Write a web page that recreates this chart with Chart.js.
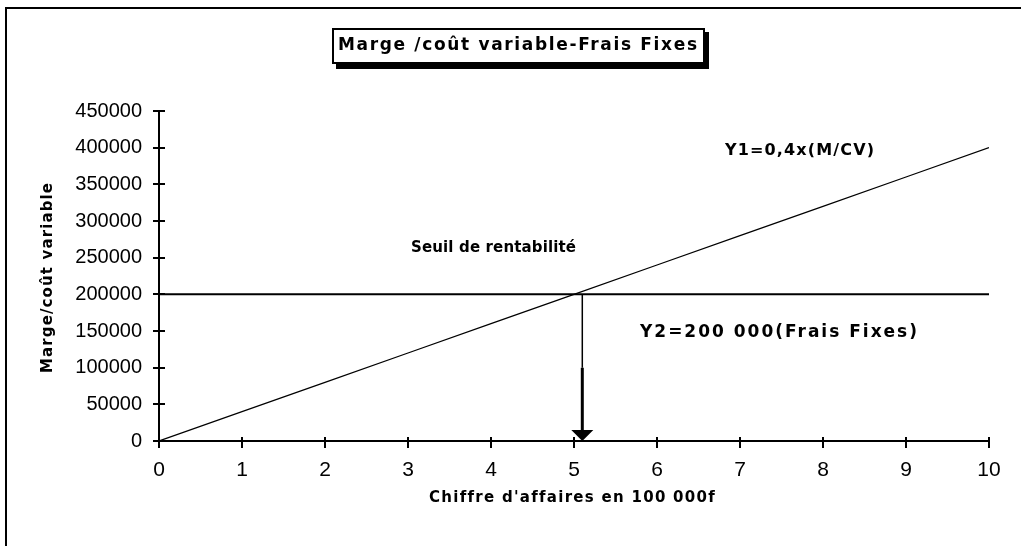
<!DOCTYPE html>
<html>
<head>
<meta charset="utf-8">
<script src="https://cdn.jsdelivr.net/npm/chart.js@4.4.0/dist/chart.umd.min.js"></script>
<style>
body{margin:0;background:#fff}
#wrap{width:1021px;height:546px;position:relative}
</style>
</head>
<body>
<div id="wrap"><canvas id="mycanvas"></canvas></div>
<script>
// chiffre d'affaires (en 100 000f)
var ca = [0, 1, 2, 3, 4, 5, 6, 7, 8, 9, 10];
// Y1 = 0,4x  (marge / coût variable)
var margeCV = [0, 40000, 80000, 120000, 160000, 200000, 240000, 280000, 320000, 360000, 400000];
// Y2 = 200 000 (frais fixes)
var fraisX = [0, 10];
var fraisY = [200000, 200000];
// seuil de rentabilité
var seuilX = 5.1;
var seuilY = [200000, 100000, 12000];
var yTicks = [0, 50000, 100000, 150000, 200000, 250000, 300000, 350000, 400000, 450000];

var titre = "Marge /coût variable-Frais Fixes";
var labelY1 = "Y1=0,4x(M/CV)";
var labelY2 = "Y2=200 000(Frais Fixes)";
var labelSeuil = "Seuil de rentabilité";
var titreX = "Chiffre d'affaires en 100 000f";
var titreY = "Marge/coût variable";

function fitText(ctx, txt, x, y, font, w) {
	ctx.font = font;
	ctx.letterSpacing = "0px";
	var m = ctx.measureText(txt).width;
	var ls = (w - m) / (txt.length - 1);
	ctx.letterSpacing = ls + "px";
	ctx.textAlign = "left";
	ctx.textBaseline = "middle";
	ctx.fillText(txt, x, y);
	ctx.letterSpacing = "0px";
}

var decor = {
	id: 'decor',
	afterDraw: function(chart) {
		var ctx = chart.ctx;
		var xs = chart.scales.x, ys = chart.scales.y;
		ctx.save();
		ctx.fillStyle = "#000";
		ctx.strokeStyle = "#000";

		// cadre extérieur
		ctx.fillRect(5, 7, 1016, 2);
		ctx.fillRect(5, 7, 2, 539);

		// boîte du titre avec ombre
		ctx.fillRect(336, 32, 373, 37);
		ctx.fillStyle = "#fff";
		ctx.fillRect(332, 28, 373, 36);
		ctx.fillStyle = "#000";
		ctx.lineWidth = 2;
		ctx.strokeRect(333, 29, 371, 34);
		fitText(ctx, titre, 338, 46, "bold 17px 'DejaVu Sans'", 359);

		// annotations
		fitText(ctx, labelY1, 725, 151, "bold 16px 'DejaVu Sans'", 149);
		fitText(ctx, labelSeuil, 411, 248, "bold 15px 'DejaVu Sans'", 165);
		fitText(ctx, labelY2, 640, 333, "bold 17px 'DejaVu Sans'", 277);
		fitText(ctx, titreX, 429, 498, "bold 15px 'DejaVu Sans'", 284);

		ctx.save();
		ctx.translate(48, 373);
		ctx.rotate(-Math.PI / 2);
		fitText(ctx, titreY, 0, 0, "bold 15px 'DejaVu Sans'", 190);
		ctx.restore();

		// graduations
		var x0 = xs.getPixelForValue(0);
		yTicks.forEach(function(v) {
			var py = Math.round(ys.getPixelForValue(v));
			ctx.fillRect(x0 - 6, py - 1, 12, 2);
		});
		var y0 = ys.getPixelForValue(0);
		ca.forEach(function(v) {
			var px = Math.round(xs.getPixelForValue(v));
			ctx.fillRect(px - 1, y0 - 4, 2, 11);
		});

		// pointe de la flèche
		var ax = xs.getPixelForValue(seuilX);
		ctx.beginPath();
		ctx.moveTo(ax - 11, y0 - 11);
		ctx.lineTo(ax + 11, y0 - 11);
		ctx.lineTo(ax, y0);
		ctx.closePath();
		ctx.fill();
		ctx.restore();
	}
};

var ctx = document.getElementById("mycanvas");

var chart = new Chart(ctx, {
	type: 'scatter',
	data: {
		datasets: [
			{
				data: ca.map(function(v, i) { return {x: v, y: margeCV[i]}; }),
				showLine: true,
				borderColor: "#000",
				borderWidth: 1.2,
				pointRadius: 0
			},
			{
				data: fraisX.map(function(v, i) { return {x: v, y: fraisY[i]}; }),
				showLine: true,
				borderColor: "#000",
				borderWidth: 2,
				pointRadius: 0
			},
			{
				data: [{x: seuilX, y: seuilY[0]}, {x: seuilX, y: seuilY[1]}],
				showLine: true,
				borderColor: "#000",
				borderWidth: 1.5,
				pointRadius: 0
			},
			{
				data: [{x: seuilX, y: seuilY[1]}, {x: seuilX, y: seuilY[2]}],
				showLine: true,
				borderColor: "#000",
				borderWidth: 3,
				pointRadius: 0
			}
		]
	},
	options: {
		responsive: true,
		maintainAspectRatio: false,
		animation: false,
		layout: { padding: { left: 0, top: 111, right: 32, bottom: 0 } },
		plugins: {
			legend: { display: false },
			tooltip: { enabled: false }
		},
		scales: {
			x: {
				type: 'linear',
				min: 0,
				max: 10,
				afterFit: function(s) { s.height = 105; },
				border: { color: "#000", width: 2 },
				grid: { drawOnChartArea: false, drawTicks: false },
				ticks: {
					stepSize: 1,
					padding: 17,
					color: "#000",
					font: { family: "'Liberation Sans', Arial", size: 21 }
				}
			},
			y: {
				min: 0,
				max: 450000,
				afterFit: function(s) { s.width = 159; },
				border: { color: "#000", width: 2 },
				grid: { drawOnChartArea: false, drawTicks: false },
				ticks: {
					stepSize: 50000,
					padding: 17,
					color: "#000",
					font: { family: "'Liberation Sans', Arial", size: 20 },
					callback: function(v) { return String(v); }
				}
			}
		}
	},
	plugins: [decor]
});
</script>
</body>
</html>
